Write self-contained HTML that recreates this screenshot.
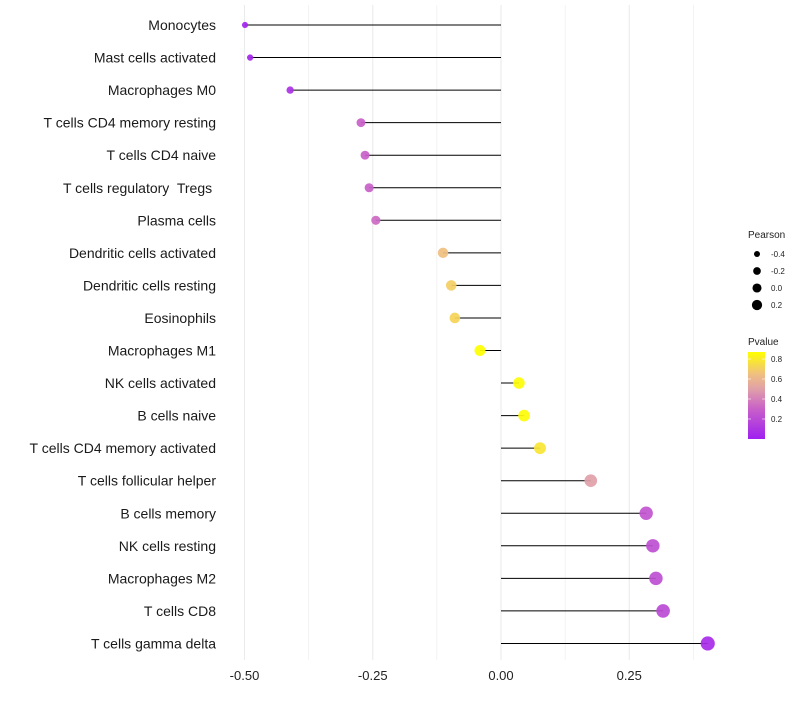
<!DOCTYPE html>
<html><head><meta charset="utf-8"><style>
body{margin:0;background:#fff;font-family:"Liberation Sans",sans-serif}
text{white-space:pre}
</style></head><body>
<svg id="chart" width="800" height="700" xmlns="http://www.w3.org/2000/svg" font-family="Liberation Sans, sans-serif"></svg>
<script>
const categories=["Monocytes","Mast cells activated","Macrophages M0","T cells CD4 memory resting","T cells CD4 naive","T cells regulatory  Tregs ","Plasma cells","Dendritic cells activated","Dendritic cells resting","Eosinophils","Macrophages M1","NK cells activated","B cells naive","T cells CD4 memory activated","T cells follicular helper","B cells memory","NK cells resting","Macrophages M2","T cells CD8","T cells gamma delta"];
const pearson=[-0.499,-0.489,-0.411,-0.273,-0.265,-0.257,-0.244,-0.113,-0.097,-0.090,-0.041,0.035,0.045,0.076,0.175,0.283,0.296,0.302,0.316,0.403];
const pvalues=[0.02,0.03,0.08,0.3,0.3,0.3,0.33,0.65,0.7,0.72,0.87,0.86,0.86,0.78,0.5,0.25,0.22,0.22,0.2,0.05];
const xTicks=[-0.5,-0.25,0,0.25];
const xTickLabels=["-0.50","-0.25","0.00","0.25"];
const sizeLegend=[-0.4,-0.2,0.0,0.2];
const pLegend=[0.8,0.6,0.4,0.2];

const svg=document.getElementById('chart');
const NS="http://www.w3.org/2000/svg";
function mk(t,a,p){const e=document.createElementNS(NS,t);for(const k in a)e.setAttribute(k,a[k]);(p||svg).appendChild(e);return e;}
const x=v=>501+v*513;
const y=i=>25+i*32.55;
const r=v=>Math.sqrt(Math.max(4,32+45*v));
const stops=[[0,[160,32,240]],[0.3,[200,96,200]],[0.5,[224,160,168]],[0.65,[240,192,128]],[0.87,[255,255,0]]];
function col(p){p=Math.max(0,Math.min(0.87,p));for(let i=1;i<stops.length;i++){if(p<=stops[i][0]){const a=stops[i-1],b=stops[i],t=(p-a[0])/(b[0]-a[0]);return 'rgb('+a[1].map((c,j)=>Math.round(c+(b[1][j]-c)*t)).join(',')+')';}}return 'rgb(255,255,0)';}

// grid
[-0.5,-0.375,-0.25,-0.125,0,0.125,0.25,0.375].forEach(v=>{
  const g=mk('line',{x1:x(v),x2:x(v),y1:5,y2:660,stroke:'#ebebeb','stroke-width':v*8%2===0?1.1:0.6});
  
  
});
// ticks
xTicks.forEach((v,i)=>{
  const t=mk('text',{x:x(v),y:680,'text-anchor':'middle','font-size':13,fill:'#222'});
  t.textContent=xTickLabels[i];
  
  
});
categories.forEach((c,i)=>{
  const t=mk('text',{x:216,y:y(i)+5,'text-anchor':'end','font-size':14,fill:'#1a1a1a'});
  t.textContent=c;
  
  
  const l=mk('line',{x1:x(0),x2:x(pearson[i]),y1:y(i),y2:y(i),stroke:'#000','stroke-width':1});
  
  
  const d=mk('circle',{cx:x(pearson[i]),cy:y(i),r:r(pearson[i]),fill:col(pvalues[i]),'fill-opacity':0.92});
  
  
});
// legends
const lt=mk('text',{x:748,y:238,'font-size':10,fill:'#222'});lt.textContent='Pearson';


sizeLegend.forEach((v,i)=>{
  const cy=254+i*17;
  const c=mk('circle',{cx:757,cy:cy,r:r(v)*0.8,fill:'#000'});
  
  
  const t=mk('text',{x:771,y:cy+3,'font-size':8,fill:'#222'});t.textContent=v.toFixed(1);
  
  
});
const pt=mk('text',{x:748,y:345,'font-size':10,fill:'#222'});pt.textContent='Pvalue';


const defs=mk('defs',{});
const gr=mk('linearGradient',{id:'pg',x1:0,y1:1,x2:0,y2:0},defs);
stops.forEach(s=>mk('stop',{offset:s[0]/0.87,'stop-color':col(s[0])},gr));
const bar=mk('rect',{x:748,y:352,width:17,height:87,fill:'url(#pg)'});


pLegend.forEach(v=>{
  const yy=439-v*100;
  mk('line',{x1:748,x2:751,y1:yy,y2:yy,stroke:'#fff','stroke-width':0.6});
  mk('line',{x1:762,x2:765,y1:yy,y2:yy,stroke:'#fff','stroke-width':0.6});
  const t=mk('text',{x:771,y:yy+3,'font-size':8,fill:'#222'});t.textContent=v.toFixed(1);
  
  
});
</script>
</body></html>
